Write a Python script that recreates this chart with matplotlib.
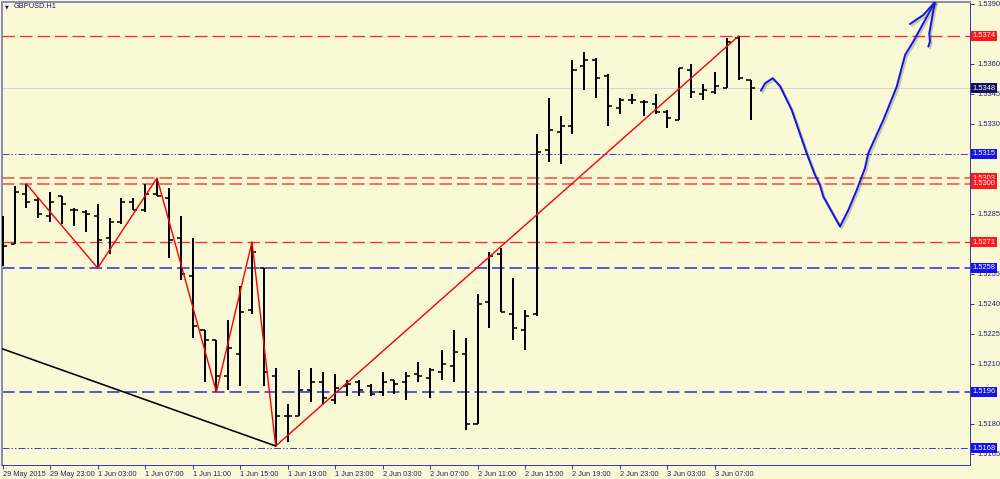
import numpy as np
import matplotlib.pyplot as plt
import matplotlib.patheffects as pe
from matplotlib.ticker import FormatStrFormatter

plt.rcParams['font.family'] = ['Liberation Sans', 'DejaVu Sans']
plt.rcParams['lines.scale_dashes'] = False

# hourly GBPUSD bars, 29 May 19:00 .. 3 Jun 10:00
opens = [1.5272, 1.5270, 1.5295, 1.5292, 1.5284, 1.5294, 1.5287, 1.5286, 1.5284, 1.5273,
         1.5281, 1.5291, 1.5287, 1.5295, 1.5293, 1.5273, 1.5254, 1.5227, 1.5222, 1.5204,
         1.5215, 1.5237, 1.5258, 1.5204, 1.5184, 1.5184, 1.5197, 1.5201, 1.5192, 1.5199,
         1.5201, 1.5199, 1.5196, 1.5202, 1.5201, 1.5205, 1.5203, 1.5206, 1.5209, 1.5215,
         1.5180, 1.5241, 1.5265, 1.5235, 1.5227, 1.5235, 1.5317, 1.5326, 1.5329, 1.5359,
         1.5362, 1.5354, 1.5338, 1.5342, 1.5341, 1.5340, 1.5336, 1.5332, 1.5357, 1.5345,
         1.5346, 1.5348, 1.5373, 1.5352]
highs = [1.5284, 1.5299, 1.5300, 1.5293, 1.5296, 1.5294, 1.5288, 1.5287, 1.5290, 1.5283,
         1.5293, 1.5293, 1.5300, 1.5303, 1.5298, 1.5284, 1.5273, 1.5227, 1.5222, 1.5232,
         1.5249, 1.5271, 1.5258, 1.5208, 1.5190, 1.5207, 1.5208, 1.5206, 1.5205, 1.5202,
         1.5202, 1.5200, 1.5206, 1.5202, 1.5206, 1.5211, 1.5208, 1.5217, 1.5227, 1.5223,
         1.5245, 1.5266, 1.5268, 1.5253, 1.5237, 1.5325, 1.5343, 1.5334, 1.5362, 1.5366,
         1.5363, 1.5355, 1.5343, 1.5345, 1.5342, 1.5345, 1.5337, 1.5358, 1.5360, 1.5350,
         1.5356, 1.5373, 1.5374, 1.5352]
lows = [1.5259, 1.5270, 1.5288, 1.5283, 1.5281, 1.5280, 1.5279, 1.5276, 1.5258, 1.5265,
        1.5280, 1.5287, 1.5286, 1.5294, 1.5263, 1.5252, 1.5223, 1.5201, 1.5196, 1.5197,
        1.5199, 1.5235, 1.5199, 1.5169, 1.5171, 1.5184, 1.5191, 1.5190, 1.5190, 1.5194,
        1.5194, 1.5194, 1.5194, 1.5195, 1.5192, 1.5201, 1.5193, 1.5202, 1.5201, 1.5177,
        1.5180, 1.5228, 1.5236, 1.5222, 1.5217, 1.5234, 1.5311, 1.5310, 1.5325, 1.5347,
        1.5343, 1.5329, 1.5335, 1.5340, 1.5334, 1.5335, 1.5328, 1.5332, 1.5343, 1.5342,
        1.5345, 1.5348, 1.5352, 1.5332]
closes = [1.5269, 1.5296, 1.5291, 1.5285, 1.5291, 1.5290, 1.5287, 1.5285, 1.5272, 1.5281,
          1.5291, 1.5287, 1.5295, 1.5294, 1.5272, 1.5255, 1.5229, 1.5222, 1.5204, 1.5218,
          1.5236, 1.5266, 1.5206, 1.5184, 1.5184, 1.5197, 1.5201, 1.5193, 1.5198, 1.5200,
          1.5197, 1.5195, 1.5201, 1.5200, 1.5204, 1.5204, 1.5207, 1.5210, 1.5216, 1.5180,
          1.5240, 1.5264, 1.5236, 1.5228, 1.5234, 1.5316, 1.5327, 1.5329, 1.5357, 1.5362,
          1.5353, 1.5339, 1.5342, 1.5342, 1.5341, 1.5336, 1.5333, 1.5358, 1.5346, 1.5347,
          1.5349, 1.5371, 1.5353, 1.5348]

time_labels = ["29 May 2015", "29 May 23:00", "1 Jun 03:00", "1 Jun 07:00", "1 Jun 11:00",
               "1 Jun 15:00", "1 Jun 19:00", "1 Jun 23:00", "2 Jun 03:00", "2 Jun 07:00",
               "2 Jun 11:00", "2 Jun 15:00", "2 Jun 19:00", "2 Jun 23:00", "3 Jun 03:00",
               "3 Jun 07:00"]

# price scale ticks (the ones not hidden under a level label)
price_ticks = [1.5165, 1.5180, 1.5210, 1.5225, 1.5240, 1.5255, 1.5285, 1.5330,
               1.5345, 1.5360, 1.5390]

# horizontal levels
red_levels = [1.5374, 1.5271]
pink_levels = [1.5303, 1.5300]
blue_dash_levels = [1.5258, 1.5196]
blue_dashdot_levels = [1.5315, 1.5168]
bid = 1.5348

# zigzag (bar index, price)
zz_idx = [2, 8, 13, 18, 21, 23, 62]
zz_price = [1.5300, 1.5258, 1.5303, 1.5196, 1.5271, 1.5169, 1.5374]

# black trend line
trend_idx = [-0.23, 23]
trend_price = [1.5218, 1.5169]

# hand drawn forecast curve
curve_idx = [63.88, 64.22, 64.87, 65.48, 66.47, 67.73, 68.43, 68.85, 69.13, 70.54,
             71.24, 71.95, 72.64, 72.92, 74.19, 75.32, 76.02, 76.71, 77.56, 78.54]
curve_price = [1.53467, 1.53503, 1.53529, 1.53490, 1.53370, 1.53154, 1.53045, 1.52995,
               1.52937, 1.52787, 1.52870, 1.52970, 1.53079, 1.53154, 1.53320, 1.53487,
               1.53645, 1.53712, 1.53804, 1.53910]
barb1_idx = [76.44, 77.56, 78.54]
barb1_price = [1.53800, 1.53845, 1.53910]
barb2_idx = [78.54, 78.26, 78.06, 78.12, 77.98]
barb2_price = [1.53910, 1.53820, 1.53753, 1.53712, 1.53687]

bg = '#f9f9d6'
px = 0.72  # one pixel in points

fig = plt.figure(figsize=(10, 4.79), dpi=100, facecolor=bg)
ax = fig.add_axes([0.002, 14 / 479, 0.968, 463 / 479])
ax.set_facecolor(bg)
ax.set_xlim(-0.06, 81.49)
ax.set_ylim(1.51595, 1.5391)

# levels
ax.axhline(bid, color='#d4d4d4', lw=1 * px, zorder=1)
for p in red_levels:
    ax.axhline(p, color='#ff2a2a', lw=1.3 * px, dashes=(9, 3.6), zorder=1)
for p in pink_levels:
    ax.axhline(p, color='#ff6e5e', lw=2 * px, dashes=(9, 3.6), zorder=1)
for p in blue_dash_levels:
    ax.axhline(p, color='#5a5ae0', lw=2 * px, dashes=(9, 3.6), zorder=1)
for p in blue_dashdot_levels:
    ax.axhline(p, color='#3c3cdc', lw=1 * px, dashes=(5, 1.5, 1, 1.5, 1, 1.5), zorder=1)

# bars
x = np.arange(len(opens))
ax.vlines(x, lows, highs, color='black', lw=2 * px, zorder=3)
ax.hlines(opens, x - 0.34, x, color='black', lw=1.6 * px, zorder=3)
ax.hlines(closes, x, x + 0.34, color='black', lw=1.6 * px, zorder=3)

ax.plot(zz_idx, zz_price, color='#ff0000', lw=1.4 * px, zorder=4)
ax.plot(trend_idx, trend_price, color='black', lw=1.6 * px, zorder=4)

shadow = [pe.SimpleLineShadow(offset=(1.2, -1.2), shadow_color='#555555', alpha=0.3), pe.Normal()]
for cx, cy in [(curve_idx, curve_price), (barb1_idx, barb1_price), (barb2_idx, barb2_price)]:
    ax.plot(cx, cy, color='#1414e6', lw=2 * px, solid_capstyle='round',
            solid_joinstyle='round', path_effects=shadow, zorder=5)

# axes look
for side in ['left', 'top']:
    ax.spines[side].set_color('#8c8cb8')
    ax.spines[side].set_linewidth(2 * px)
for side in ['right', 'bottom']:
    ax.spines[side].set_color('#3a3ab0')
    ax.spines[side].set_linewidth(1 * px)

ax.yaxis.tick_right()
ax.set_yticks(price_ticks)
ax.yaxis.set_major_formatter(FormatStrFormatter('%.4f'))
ax.tick_params(axis='y', length=3, width=1 * px, color='#3a3ab0', labelsize=5.4,
               labelcolor='#24246e', pad=2)

ax.set_xticks(np.arange(0, len(opens), 4))
ax.set_xticklabels(time_labels)
ax.tick_params(axis='x', length=3, width=1 * px, color='#3a3ab0', labelsize=5.3,
               labelcolor='#24246e', pad=1)
plt.setp(ax.get_xticklabels(), ha='left')

# price labels on the right
box_labels = [(p, '#ff1a1a') for p in red_levels + pink_levels] + \
             [(p, '#1414f0') for p in blue_dash_levels + blue_dashdot_levels] + \
             [(bid, '#12125e')]
for p, c in box_labels:
    ax.text(1.0025, p, f'{p:.4f}', transform=ax.get_yaxis_transform(), va='center',
            ha='left', fontsize=5.4, color='white', clip_on=False, zorder=6,
            bbox=dict(boxstyle='square,pad=0.2', fc=c, ec='none'))

fig.text(0.005, 1 - 7 / 479, '\u25bc', fontsize=3.5, color='#1c1c6a', va='center',
         family=['DejaVu Sans'])
fig.text(0.014, 1 - 7 / 479, 'GBPUSD.H1', fontsize=5.3, color='#1c1c6a', va='center')

fig.savefig('out.png', dpi=100, facecolor=bg)
